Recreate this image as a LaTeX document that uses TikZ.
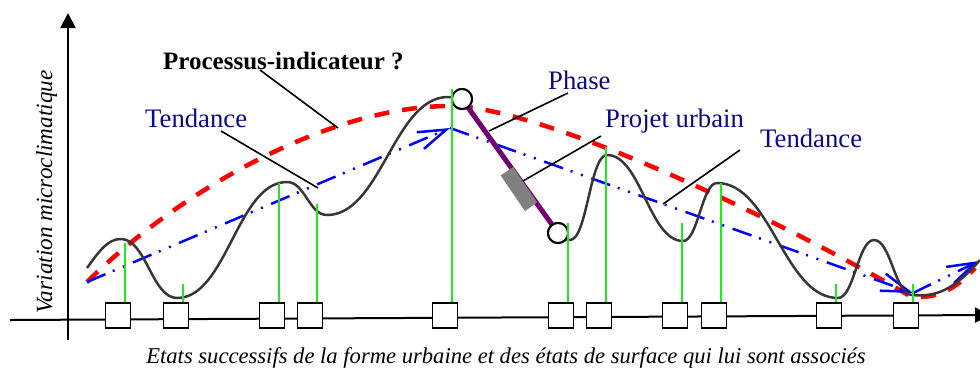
\documentclass[tikz,border=0pt]{standalone}
\usepackage{fontspec}
\setmainfont{Liberation Serif}
\usetikzlibrary{arrows.meta}
\definecolor{navytxt}{RGB}{10,10,130}
\definecolor{curvegray}{RGB}{55,55,55}
\definecolor{grn}{RGB}{30,235,30}
\definecolor{purp}{RGB}{115,0,115}
\definecolor{redd}{RGB}{255,0,0}
\definecolor{bluel}{RGB}{0,0,255}
\definecolor{rectgray}{RGB}{128,128,128}
\begin{document}
\begin{tikzpicture}[x=1pt,y=-1pt,
  axis/.style={line width=2pt,-{Triangle[length=15pt,width=15pt]}},
  statebox/.style={draw,line width=1.8pt,fill=white,minimum size=25pt,inner sep=0pt},
  greenline/.style={draw=grn,line width=2pt},
  curveline/.style={draw=curvegray,line width=2.5pt},
  reddash/.style={draw=redd,line width=4.5pt,dash pattern=on 15pt off 13pt},
  bluedd/.style={draw=bluel,line width=2.5pt,dash pattern=on 20pt off 8pt on 2pt off 9pt on 2pt off 9pt,-{Straight Barb[length=28pt,width=18pt]}},
  leader/.style={draw=black,line width=1.6pt},
  bluelabel/.style={text=navytxt,font=\fontsize{26.7}{30}\selectfont,inner sep=0pt,anchor=base west},
  jointcircle/.style={circle,draw,line width=2pt,fill=white,minimum size=20pt,inner sep=0pt},
]
\useasboundingbox (0,0) rectangle (980,368);
\clip (0,0) rectangle (980,368);

% axes
\coordinate (ybot) at (68,340);
\coordinate (ytop) at (68,13);
\coordinate (xleft) at (10,320);
\coordinate (xright) at (990,315);
\draw[axis] (ybot) -- (ytop);
\draw[axis] (xleft) -- (xright);

% red dashed process curve
\coordinate (r0) at (87,282);
\coordinate (r1) at (450,106);
\coordinate (r2) at (910,296);
\coordinate (r3) at (975,268);
\draw[reddash] (r0) .. controls (180,190) and (330,106) .. (r1)
  .. controls (545,106) and (795,228) .. (r2)
  .. controls (935,300) and (955,290) .. (r3);

% blue trend lines
\coordinate (t0) at (87,282);
\coordinate (t1) at (450,128);
\coordinate (t2) at (913,293);
\coordinate (t3) at (979,261);
\draw[bluedd] (t0) -- (t1);
\draw[bluedd] (t1) -- (t2);
\draw[bluedd] (t2) -- (t3);

% joints
\node[jointcircle] (c1) at (462,99) {};
\node[jointcircle] (c2) at (558,233) {};

% black curve
\draw[curveline] (87,268) .. controls (100,250) and (108,239) .. (121,239)
  .. controls (146,239) and (152,298) .. (177,298)
  .. controls (227,298) and (237,182) .. (287,182)
  .. controls (305,182) and (309,215) .. (327,215)
  .. controls (381,215) and (394,97) .. (448,97)
  .. controls (455,97) and (458,98) .. (c1.center);
\draw[curveline] (c2.center) .. controls (563,238) and (566,240) .. (570,240)
  .. controls (587,240) and (590,155) .. (607,155)
  .. controls (641,155) and (649,241) .. (683,241)
  .. controls (698,241) and (702,183) .. (717,183)
  .. controls (771,183) and (784,298) .. (838,298)
  .. controls (854,298) and (858,240) .. (874,240)
  .. controls (891,240) and (895,295) .. (912,295)
  .. controls (940,298) and (958,285) .. (980,260);

% phase (purple) and urban project (gray)
\draw[draw=purp,line width=5pt] (c1.center) -- (c2.center);
\node[fill=rectgray,minimum width=43pt,minimum height=15pt,inner sep=0pt,rotate=-55.8] (proj) at (519,189) {};
\node[jointcircle] at (c1) {};
\node[jointcircle] at (c2) {};

% green lines and state boxes
\foreach \i/\bx/\gt in {1/118/243,2/176/284,3/272/183,4/310/204,5/445/89,6/561/223,7/599/147,8/675/223,9/714/183,10/829/284,11/906/284}{
  \coordinate (g\i) at (\bx+7,\gt);
  \node[statebox] (b\i) at (\bx,315.5) {};
  \draw[greenline] ([xshift=7pt]b\i.north) -- (g\i);
}
\foreach \i/\bx in {1/118,2/176,3/272,4/310,5/445,6/561,7/599,8/675,9/714,10/829,11/906}{
  \node[statebox] at (\bx,315.5) {};
}

% labels
\node[inner sep=0pt,anchor=base west,font=\fontsize{25}{30}\selectfont\bfseries] (proc) at (163,69) {Processus-indicateur ?};
\node[bluelabel] (tend1) at (145,127) {Tendance};
\node[bluelabel] (phase) at (548,89) {Phase};
\node[bluelabel] (projet) at (605,127) {Projet urbain};
\node[bluelabel] (tend2) at (760,147) {Tendance};

% leader lines
\coordinate (lp1) at (260,70);   \coordinate (lp2) at (338,128);
\coordinate (lt1) at (221,131);  \coordinate (lt2) at (318,188);
\coordinate (lf1) at (568,93);   \coordinate (lf2) at (489,131);
\coordinate (lu1) at (601,136);  \coordinate (lu2) at (523,181);
\coordinate (lr1) at (740,150);  \coordinate (lr2) at (663,204);
\draw[leader] (lp1) -- (lp2);
\draw[leader] (lt1) -- (lt2);
\draw[leader] (lf1) -- (lf2);
\draw[leader] (lu1) -- (lu2);
\draw[leader] (lr1) -- (lr2);

% axis titles
\node[inner sep=0pt,anchor=base,font=\fontsize{22.6}{26}\selectfont\itshape] (caption) at (506,363) {Etats successifs de la forme urbaine et des états de surface qui lui sont associés};
\node[inner sep=0pt,anchor=base,rotate=90,font=\fontsize{23.2}{27}\selectfont\itshape] (ylab) at (52,192) {Variation microclimatique};
\end{tikzpicture}
\end{document}
